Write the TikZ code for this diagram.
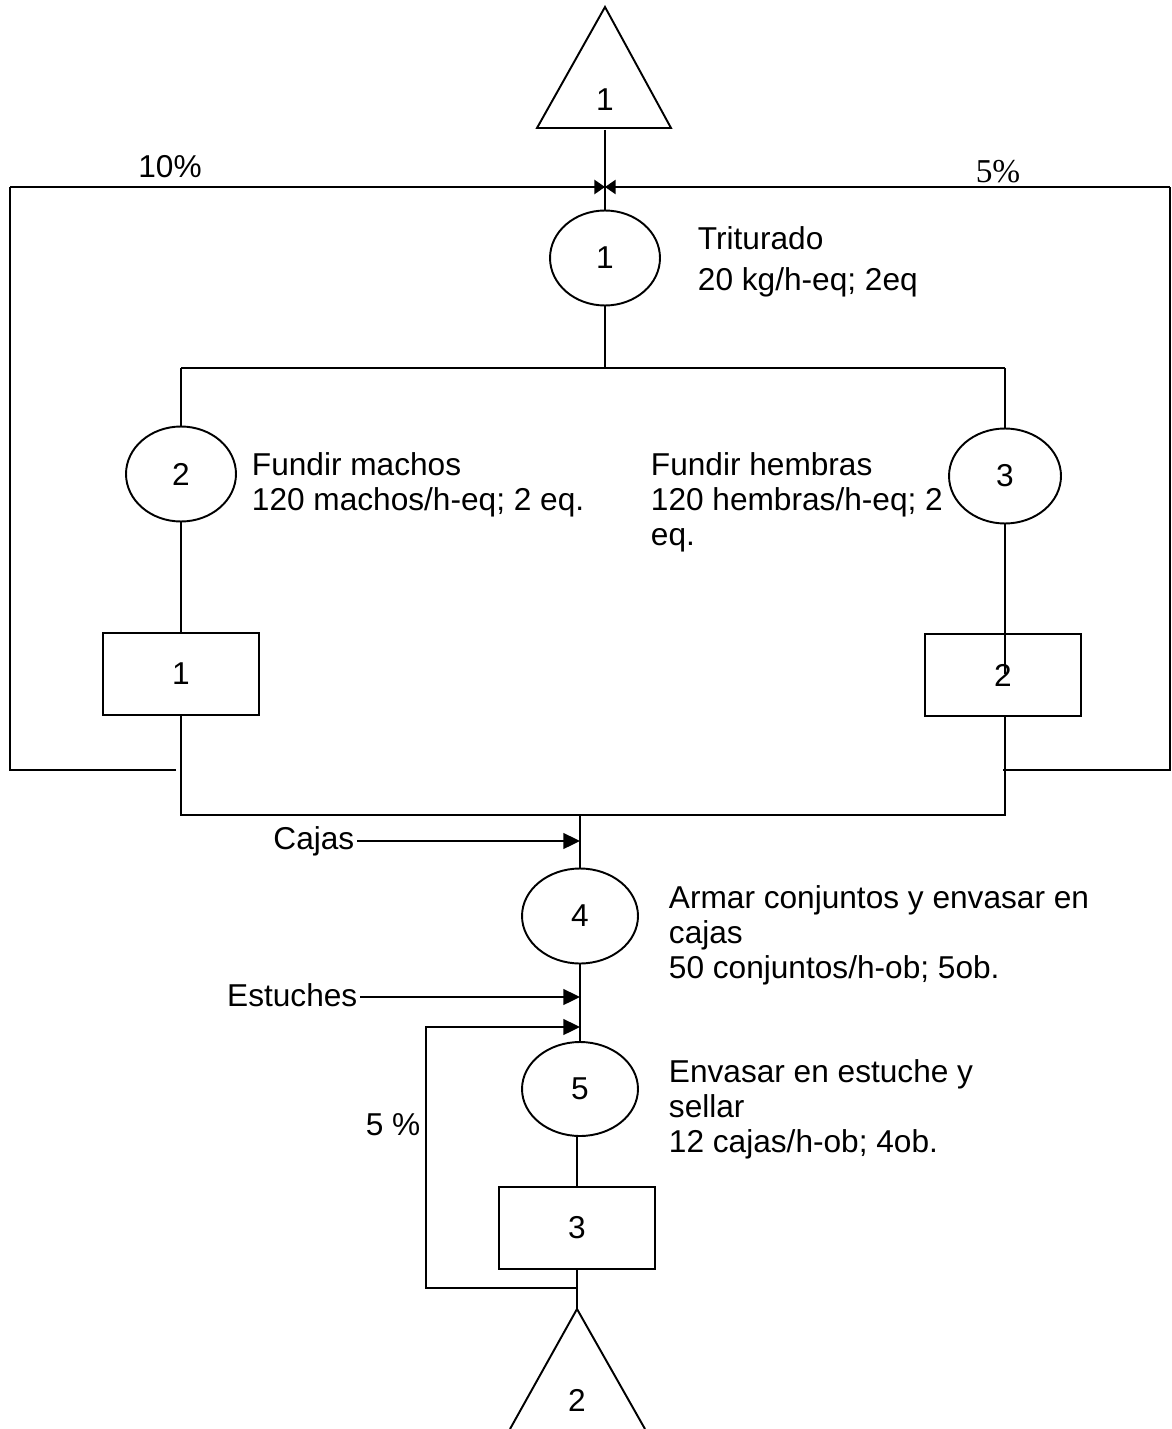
\documentclass[tikz,border=0pt]{standalone}
\usepackage{fontspec}
\setmainfont{Liberation Sans}
\newfontfamily\timesfont{Liberation Serif}
\usetikzlibrary{positioning,arrows.meta,shapes.geometric}

\begin{document}
\begin{tikzpicture}[
    x=0.02cm, y=-0.02cm, line width=1.1pt,
    op/.style={draw, ellipse, inner sep=0pt, minimum width=2.2cm,
               minimum height=1.9cm, font=\fontsize{18}{20}\selectfont},
    store/.style={draw, rectangle, minimum width=3.12cm,
                  minimum height=1.64cm, font=\fontsize{18}{20}\selectfont},
    lbl/.style={anchor=west, align=left, inner sep=0pt,
                font=\fontsize{18}{20}\selectfont},
    txt/.style={inner sep=1pt, font=\fontsize{18}{20}\selectfont},
    flow/.style={-{Triangle[length=9.5pt,width=9pt]}},
    back/.style={-{Triangle[length=6pt,width=8pt]}}
]
\useasboundingbox (0,0) rectangle (1172,1429);

% ============================
% Entrada y triturado
% ============================
\draw (605,7) -- (537,128) -- (671,128) -- cycle;
\node[txt] (t1) at (605,100) {1};
\coordinate (t1b) at (605,130);
\coordinate (m)  at (605,187);
\coordinate (lt) at (10,187);
\coordinate (rt) at (1170,187);
\node[op] (op1) at (605,258) {1};
\node[lbl, font=\fontsize{18}{23}\selectfont] (lb1) at (697,262) {Triturado\\20 kg/h-eq; 2eq};
\draw (t1b) -- (op1);
\draw[back] (lt) -- (m);
\draw[back] (rt) -- (m);
\node[txt] (p10) at (170,167) {10\%};
\node[txt, font=\timesfont\fontsize{19}{20}\selectfont] (p5) at (998,172) {5\%};

% ============================
% Fundir machos / hembras
% ============================
\coordinate (split)  at (605,368);
\coordinate (splitL) at (181,368);
\coordinate (splitR) at (1005,368);
\node[op, minimum width=2.2cm]  (op2) at (181,474) {2};
\node[op, minimum width=2.24cm] (op3) at (1005,476) {3};
\node[lbl] (lb2) at (251,485) {Fundir machos\\120 machos/h-eq; 2 eq.};
\node[lbl] (lb3) at (650,502) {Fundir hembras\\120 hembras/h-eq; 2\\eq.};
\node[store] (box1) at (181,674) {1};
\node[store] (box2) at (1003,675) {2};
\draw (op1) -- (split);
\draw (splitL) -- (splitR);
\draw (splitL) -- (op2);
\draw (splitR) -- (op3);
\draw (op2) -- (box1);
\draw (op3) -- (box1 -| op3);
\coordinate (joinL) at (181,815);
\coordinate (joinR) at (1005,815);
\draw (box1) -- (joinL) -- (joinR) -- (joinR |- box2.south);
% Recirculacion
\coordinate (recL) at (176,770);
\coordinate (recR) at (1003,770);
\draw (recL) -| (lt);
\draw (recR) -| (rt);

% ============================
% Armar y envasar
% ============================
\coordinate (join) at (580,815);
\coordinate (inC)  at (580,841);
\coordinate (inE)  at (580,997);
\coordinate (inR)  at (580,1027);
\node[op, minimum width=2.32cm]  (op4) at (580,916) {4};
\node[op, minimum width=2.32cm, minimum height=1.88cm] (op5) at (580,1089) {5};
\node[lbl] (lb4) at (668,935) {Armar conjuntos y envasar en\\cajas\\50 conjuntos/h-ob; 5ob.};
\node[lbl] (lb5) at (668,1109) {Envasar en estuche y\\sellar\\12 cajas/h-ob; 4ob.};
\node[txt, anchor=east] (cajas) at (357,841) {Cajas};
\node[txt, anchor=east] (estuches) at (360,995) {Estuches};
\draw (join) -- (op4);
\draw (op4) -- (op5);
\draw[flow] (cajas) -- (inC);
\draw[flow] (estuches.east |- inE) -- (inE);
\node[store] (box3) at (577,1228) {3};
\draw (op5.south -| box3) -- (box3);
\coordinate (ret)  at (577,1288);
\coordinate (retC) at (426,1027);
\coordinate (t2a)  at (577,1309);
\draw (box3) -- (t2a);
\draw[flow] (ret) -| (retC) -- (inR);
\node[txt] (p5b) at (393,1125) {5 \%};

% ============================
% Salida
% ============================
\draw (510,1429) -- (t2a) -- (645,1429);
\node[txt] (t2) at (577,1400) {2};

\end{tikzpicture}
\end{document}
